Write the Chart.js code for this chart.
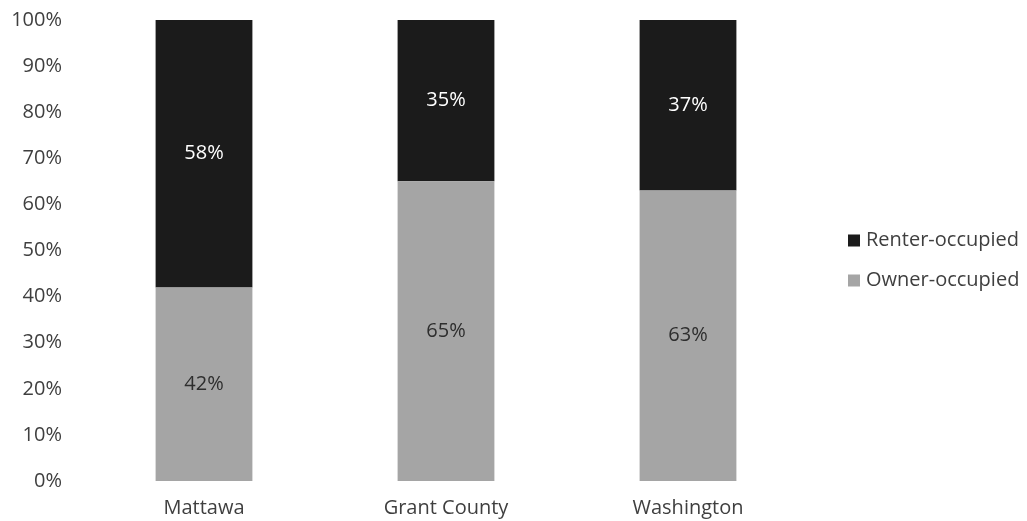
<!DOCTYPE html>
<html>
<head>
<meta charset="utf-8">
<script src="https://cdn.jsdelivr.net/npm/chart.js@4/dist/chart.umd.min.js"></script>
<style>
    html, body { margin: 0; padding: 0; background: #ffffff; }
    #wrap { width: 1027px; height: 521px; }
</style>
</head>
<body>
<div id="wrap"><canvas id="tenureChart"></canvas></div>
<script>
const places = ['Mattawa', 'Grant County', 'Washington'];
const ownerOccupied = [42, 65, 63];
const renterOccupied = [58, 35, 37];
const yTicks = [0, 10, 20, 30, 40, 50, 60, 70, 80, 90, 100];

const FONT = "'Open Sans', 'Noto Sans', sans-serif";
const FONT_SIZE = 20;
const TEXT_COLOR = '#3f3f3f';

// Writes each segment's share in the middle of its bar piece
const segmentLabels = {
    id: 'segmentLabels',
    afterDatasetsDraw(chart) {
        const ctx = chart.ctx;
        ctx.save();
        ctx.font = FONT_SIZE + 'px ' + FONT;
        ctx.textAlign = 'center';
        ctx.textBaseline = 'middle';
        chart.data.datasets.forEach((ds, i) => {
            const meta = chart.getDatasetMeta(i);
            meta.data.forEach((bar, j) => {
                const mid = (bar.y + bar.base) / 2;
                ctx.fillStyle = ds.labelColor;
                ctx.fillText(ds.data[j] + '%', bar.x, mid);
            });
        });
        ctx.restore();
    }
};

// Legend to the right of the plot, renter first, a bit below mid-height
const sideLegend = {
    id: 'sideLegend',
    afterDraw(chart) {
        const ctx = chart.ctx;
        const area = chart.chartArea;
        const items = chart.data.datasets.slice().reverse();
        const rowGap = 40;
        const box = 12;
        const x = area.right + 39;
        let y = (area.top + area.bottom) / 2 - rowGap * (items.length - 1) / 2 + 10;
        ctx.save();
        ctx.font = FONT_SIZE + 'px ' + FONT;
        ctx.textAlign = 'left';
        ctx.textBaseline = 'middle';
        items.forEach(ds => {
            ctx.fillStyle = ds.backgroundColor;
            ctx.fillRect(x, y - box / 2, box, box);
            ctx.fillStyle = TEXT_COLOR;
            ctx.fillText(ds.label, x + box + 6, y);
            y += rowGap;
        });
        ctx.restore();
    }
};

new Chart(document.getElementById('tenureChart').getContext('2d'), {
    type: 'bar',
    data: {
        labels: places,
        datasets: [{
            label: 'Owner-occupied',
            data: ownerOccupied,
            backgroundColor: '#a5a5a5',
            labelColor: '#2e2e2e'
        }, {
            label: 'Renter-occupied',
            data: renterOccupied,
            backgroundColor: '#1b1b1b',
            labelColor: '#ffffff'
        }]
    },
    options: {
        responsive: true,
        maintainAspectRatio: false,
        animation: false,
        layout: {
            padding: { top: 20, right: 218, bottom: 0, left: 11 }
        },
        datasets: {
            bar: {
                categoryPercentage: 1.0,
                barPercentage: 0.4
            }
        },
        plugins: {
            tooltip: { enabled: false },
            legend: { display: false }
        },
        scales: {
            x: {
                stacked: true,
                grid: { display: false, drawTicks: false },
                border: { display: false },
                ticks: {
                    color: TEXT_COLOR,
                    padding: 15,
                    font: { family: FONT, size: FONT_SIZE }
                },
                afterFit(axis) {
                    axis.height = 40;
                    axis.paddingLeft = 0;
                    axis.paddingRight = 0;
                }
            },
            y: {
                stacked: true,
                min: 0,
                max: 100,
                afterBuildTicks(axis) {
                    axis.ticks = yTicks.map(v => ({ value: v }));
                },
                grid: { display: false, drawTicks: false },
                border: { display: false },
                ticks: {
                    color: TEXT_COLOR,
                    padding: 21,
                    font: { family: FONT, size: FONT_SIZE },
                    callback: v => v + '%'
                },
                afterFit(axis) {
                    axis.width = 72;
                    axis.paddingTop = 0;
                    axis.paddingBottom = 0;
                }
            }
        }
    },
    plugins: [segmentLabels, sideLegend]
});
</script>
</body>
</html>
